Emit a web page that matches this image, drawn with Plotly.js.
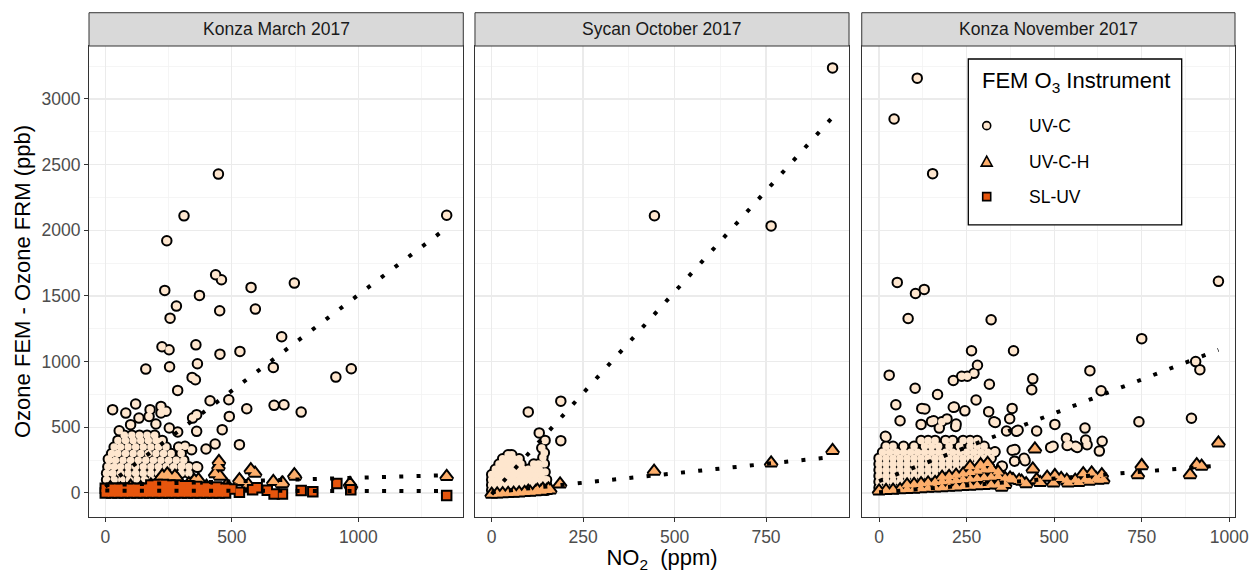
<!DOCTYPE html>
<html>
<head>
<meta charset="utf-8">
<script src="https://cdn.plot.ly/plotly-3.0.1.min.js"></script>
<style>html,body{margin:0;padding:0;background:#fff}#chart{width:1252px;height:573px}</style>
</head>
<body>
<div id="chart"></div>
<script>
// ---------- DATA ----------
const panels = ["Konza March 2017", "Sycan October 2017", "Konza November 2017"];
const instruments = ["UV-C", "UV-C-H", "SL-UV"];
const legendTitle = "FEM O<sub>3</sub> Instrument";
const xTicks1 = [0, 500, 1000];
const xTicks23 = [0, 250, 500, 750, 1000];
const yTicks = [0, 500, 1000, 1500, 2000, 2500, 3000];

// Panel 1: Konza March 2017
const p1_uvc_x = [311,243,436,459,235,372,576,747,281,256,452,593,697,224,252,358,453,532,254,364,160,664,911,972,343,356,286,1349,447,
  29,81,120,55,133,173,177,220,220,240,100,200,253,286,345,361,361,414,488,559,490,462,667,706,774,530,398,434,315,341,365,302,12,
  5,35,65,95,125,155,185,215,245,275,
  5,30,60,90,120,150,180,210,240,270,300,330,
  10,35,60,90,120,150,180,210,240,270,300,330,360,
  15,40,70,100,130,160,190,220,250,280,310,
  25,50,80,110,140,170,200,230,260,300,
  35,60,90,120,150,180,210,240,290,
  50,80,110,140,170,200,225,
  75,105,135,165,195];
const p1_uvc_y = [2110,1920,1661,1623,1542,1504,1565,1598,1423,1331,1387,1400,1189,1113,1090,1128,1057,1078,961,984,943,956,882,946,880,862,781,2114,2428,
  634,608,677,474,570,583,634,659,609,622,520,525,495,464,570,596,469,702,710,641,583,482,667,672,616,368,335,373,355,329,195,205,258,
  100,100,100,100,100,100,100,100,100,100,
  150,150,150,150,150,150,150,150,150,150,150,150,
  200,200,200,200,200,200,200,200,200,200,200,200,200,
  250,250,250,250,250,250,250,250,250,250,250,
  300,300,300,300,300,300,300,300,300,300,
  350,350,350,350,350,350,350,350,350,
  400,400,400,400,400,400,400,
  440,440,440,440,440];
const p1_uvch_x = [449,447,575,592,530,664,701,747,971,565,434,352,282,249,1349,750,967,453,275,368,533,697,
  20,60,100,140,180,210,230,260,300,330,400,480,225,245,260,215];
const p1_uvch_y = [240,200,177,150,101,88,75,139,55,63,147,94,114,127,125,127,71,127,127,101,88,71,
  40,30,50,40,60,90,110,80,60,70,50,60,130,145,100,95];
const p1_slu_x = [0,25,50,75,100,125,150,175,200,225,250,275,300,325,350,375,400,425,450,475,
  0,25,50,75,100,125,150,175,200,225,250,275,300,325,350,375,400,425,450,475,500,
  180,205,230,255,280,305,330,360,400,440,
  530,582,600,640,667,700,774,820,915,970,1349];
const p1_slu_y = [0,0,0,0,0,0,0,0,0,0,0,0,0,0,0,0,0,0,0,0,
  35,35,35,35,35,35,35,35,35,35,35,35,35,35,35,35,35,35,35,35,30,
  60,65,65,60,60,55,55,50,45,45,
  5,25,40,20,-8,-8,18,9,73,25,-19];

// Panel 2: Sycan October 2017
const p2_uvc_x = [932,445,764,189,100,130,189,146,144,144,146,144,137,140,
  0,15,30,45,60,75,90,105,120,135,150,
  0,15,30,45,60,75,90,105,120,135,150,
  0,15,30,45,60,75,90,105,120,135,150,
  0,15,30,45,60,75,90,105,120,135,
  10,25,40,55,70,85,100,115,130,
  20,35,50,65,80,115,128,
  30,45,60,75,
  45,55];
const p2_uvc_y = [3236,2111,2033,699,617,457,398,400,306,222,160,100,342,270,
  20,20,20,20,20,20,20,20,20,20,20,
  60,60,60,60,60,60,60,60,60,60,60,
  100,100,100,100,100,100,100,100,100,100,100,
  140,140,140,140,140,140,140,140,140,140,
  180,180,180,180,180,180,180,180,180,
  220,220,220,220,220,220,220,
  260,260,260,260,
  290,290];
const p2_uvch_x = [187,444,764,932,
  0,15,30,45,60,75,90,105,120,135,150,160,140,155,125,100];
const p2_uvch_y = [68,165,228,324,
  -10,-8,-6,-4,-2,0,3,6,10,14,18,22,28,30,20,12];

// Panel 3: Konza November 2017
const p3_uvc_x = [109,43,153,52,104,129,83,320,969,750,264,384,281,29,212,236,252,271,602,904,916,439,436,315,103,634,167,48,122,131,212,245,277,380,313,
  60,156,194,179,120,219,328,364,397,450,502,588,742,892,497,535,537,566,590,594,637,629,414,352,387,380,331,18,
  150,172,220,215,373,332,490,542,561,417,388,350,392,20,
  0,20,40,60,
  0,20,40,60,80,100,120,
  0,20,40,60,80,100,120,140,160,180,
  0,20,40,60,80,100,120,140,160,180,200,220,240,
  0,20,40,60,80,100,120,140,160,180,200,220,240,260,280,300,
  0,20,40,60,80,100,120,140,160,180,200,220,240,260,280,300,320,
  10,30,50,70,90,110,130,150,170,190,210,230,250,270,290,310,330,
  20,40,70,100,130,150,170,200,230,260,280,300,
  120,140,160,190,210,240,260,280];
const p3_uvc_y = [3158,2847,2431,1603,1519,1550,1328,1319,1611,1175,1083,1083,972,897,856,889,889,911,931,1000,939,869,786,828,797,778,750,672,644,639,653,625,708,644,619,
  550,550,564,542,522,506,542,472,478,472,522,494,542,569,356,417,361,347,403,367,394,319,264,203,242,325,314,431,
  545,494,525,654,565,537,347,367,355,246,330,203,469,426,
  40,40,40,40,
  85,85,85,85,85,85,85,
  130,130,130,130,130,130,130,130,130,130,
  175,175,175,175,175,175,175,175,175,175,175,175,175,
  220,220,220,220,220,220,220,220,220,220,220,220,220,220,220,220,
  265,265,265,265,265,265,265,265,265,265,265,265,265,265,265,265,265,
  310,310,310,310,310,310,310,310,310,310,310,310,310,310,310,310,310,
  355,355,355,355,355,355,355,355,355,355,355,355,
  400,400,400,400,400,400,400,400];
const p3_uvch_x = [969,750,739,907,921,888,445,439,502,498,536,560,588,607,636,626,583,374,383,407,450,322,350,288,
  0,20,40,60,80,100,120,140,160,180,200,220,240,260,280,300,320,340,360,
  80,100,120,140,160,180,200,220,240,260,280,300,320,340,360,380,400,
  180,200,220,240,260,280,300,320,340,
  260,290,310,
  420,460,480,520,540,570,600,620,640];
const p3_uvch_y = [380,208,139,215,203,139,335,183,132,76,96,96,101,152,139,96,147,114,101,89,101,177,43,203,
  15,18,21,24,26,29,32,35,37,40,43,46,49,51,54,57,60,62,65,
  60,65,70,75,80,85,90,95,100,105,110,115,120,125,110,100,95,
  120,125,135,145,155,165,175,185,160,
  200,215,225,
  70,80,120,110,75,80,90,110,100];

// Linear trend lines (end points)
const p1_fit_x = [0, 1349];
const p1_fit_uvc = [48, 2018];
const p1_fit_uvch = [60, 135];
const p1_fit_slu = [18, 14];
const p2_fit_x = [0, 932];
const p2_fit_uvc = [-10, 2861];
const p2_fit_uvch = [6, 274];
const p3_fit_x = [0, 969];
const p3_fit_uvc = [90, 1090];
const p3_fit_uvch = [5, 208];

// ---------- STYLE ----------
const FONT = 'Liberation Sans, Arial, Helvetica, sans-serif';
const fills = {"UV-C": '#FEE6CE', "UV-C-H": '#FDAE6B', "SL-UV": '#E6550D'};
const symbols = {"UV-C": 'circle', "UV-C-H": 'triangle-up', "SL-UV": 'square'};
const sizes = {"UV-C": 7.5, "UV-C-H": 10, "SL-UV": 7.5};

function pointTraces(xs, ys, inst, ax) {
  const xa = 'x' + (ax === 1 ? '' : ax), ya = 'y' + (ax === 1 ? '' : ax);
  return [
    {type: 'scatter', mode: 'markers', x: xs, y: ys, xaxis: xa, yaxis: ya, showlegend: false, hoverinfo: 'skip', name: inst,
     marker: {symbol: symbols[inst], size: sizes[inst], color: '#000000', line: {color: '#000000', width: 4}}},
    {type: 'scatter', mode: 'markers', x: xs, y: ys, xaxis: xa, yaxis: ya, showlegend: false, name: inst,
     marker: {symbol: symbols[inst], size: sizes[inst], color: fills[inst], line: {width: 0}}}
  ];
}
function fitTrace(xs, ys, ax) {
  const xa = 'x' + (ax === 1 ? '' : ax), ya = 'y' + (ax === 1 ? '' : ax);
  return {type: 'scatter', mode: 'lines', x: xs, y: ys, xaxis: xa, yaxis: ya, showlegend: false, hoverinfo: 'skip',
          line: {color: '#000000', width: 4, dash: '4px,13.3px'}};
}

const traces = [].concat(
  pointTraces(p1_uvc_x, p1_uvc_y, 'UV-C', 1),
  pointTraces(p1_uvch_x, p1_uvch_y, 'UV-C-H', 1),
  pointTraces(p1_slu_x, p1_slu_y, 'SL-UV', 1),
  pointTraces(p2_uvc_x, p2_uvc_y, 'UV-C', 2),
  pointTraces(p2_uvch_x, p2_uvch_y, 'UV-C-H', 2),
  pointTraces(p3_uvc_x, p3_uvc_y, 'UV-C', 3),
  pointTraces(p3_uvch_x, p3_uvch_y, 'UV-C-H', 3),
  [fitTrace(p1_fit_x, p1_fit_uvc, 1), fitTrace(p1_fit_x, p1_fit_uvch, 1), fitTrace(p1_fit_x, p1_fit_slu, 1),
   fitTrace(p2_fit_x, p2_fit_uvc, 2), fitTrace(p2_fit_x, p2_fit_uvch, 2),
   fitTrace(p3_fit_x, p3_fit_uvc, 3), fitTrace(p3_fit_x, p3_fit_uvch, 3)]
);

// ---------- LAYOUT ----------
const W = 1252, H = 573, ML = 89, MR = 17, MT = 46, MB = 55.7;
const PW = W - ML - MR, PH = H - MT - MB;
const px2x = function (px) { return (px - ML) / PW; };
const px2y = function (py) { return (H - MB - py) / PH; };

const domains = [[0, 0.3266], [0.3368, 0.6632], [0.6743, 1]];
const xRanges = [[-64.4, 1414.6], [-45.7, 977], [-49.4, 1016.3]];
const yRange = [-183, 3403];

function xAxis(i) {
  const a = {
    domain: domains[i], range: xRanges[i], anchor: i === 0 ? 'y' : 'y' + (i + 1),
    tickmode: 'array', tickvals: i === 0 ? xTicks1 : xTicks23,
    ticks: 'outside', ticklen: 4, tickwidth: 1, tickcolor: '#333333',
    tickfont: {family: FONT, size: 17.5, color: '#4D4D4D'},
    showgrid: true, gridcolor: '#EBEBEB', gridwidth: 1.3, zeroline: false,
    minor: {dtick: i === 0 ? 250 : 125, tick0: 0, showgrid: true, gridcolor: '#F2F2F2', gridwidth: 0.8, ticks: ''},
    showline: true, mirror: true, linecolor: '#333333', linewidth: 1, fixedrange: true
  };
  if (i === 1) a.title = {text: 'NO<sub>2</sub>&nbsp; (ppm)', font: {family: FONT, size: 22, color: '#000'}, standoff: 4};
  return a;
}
function yAxis(i) {
  const a = {
    domain: [0, 1], range: yRange, anchor: i === 0 ? 'x' : 'x' + (i + 1),
    tickmode: 'array', tickvals: yTicks,
    showticklabels: i === 0, ticks: i === 0 ? 'outside' : '', ticklen: 4, tickwidth: 1, tickcolor: '#333333',
    tickfont: {family: FONT, size: 17.5, color: '#4D4D4D'},
    showgrid: true, gridcolor: '#EBEBEB', gridwidth: 1.3, zeroline: false,
    minor: {dtick: 250, tick0: 0, showgrid: true, gridcolor: '#F2F2F2', gridwidth: 0.8, ticks: ''},
    showline: true, mirror: true, linecolor: '#333333', linewidth: 1, fixedrange: true
  };
  if (i === 0) a.title = {text: 'Ozone FEM - Ozone FRM (ppb)', font: {family: FONT, size: 22, color: '#000'}, standoff: 4};
  return a;
}

const stripTop = 1 + (MT - 12.7) / PH;
const shapes = [], annotations = [];
domains.forEach(function (d, i) {
  shapes.push({type: 'rect', xref: 'paper', yref: 'paper', x0: d[0], x1: d[1], y0: 1, y1: stripTop,
               fillcolor: '#D9D9D9', line: {color: '#333333', width: 1}});
  annotations.push({xref: 'paper', yref: 'paper', x: (d[0] + d[1]) / 2, y: (1 + stripTop) / 2,
                    xanchor: 'center', yanchor: 'middle', showarrow: false, text: panels[i],
                    font: {family: FONT, size: 17.5, color: '#1A1A1A'}});
});

// Legend box drawn inside the third panel
shapes.push({type: 'rect', xref: 'paper', yref: 'paper', x0: px2x(968.3), x1: px2x(1181.7), y0: px2y(225), y1: px2y(59),
             fillcolor: '#FFFFFF', line: {color: '#000000', width: 1.3}, layer: 'above'});
annotations.push({xref: 'paper', yref: 'paper', x: px2x(980), y: px2y(82), xanchor: 'left', yanchor: 'middle',
                  showarrow: false, text: legendTitle, font: {family: FONT, size: 22, color: '#000'}});
const keyY = [125.7, 161.7, 196.7];
const keyPaths = {
  "UV-C": null,
  "UV-C-H": 'M-5.5,-4.5L5.5,-4.5L0,5.5Z',
  "SL-UV": null
};
instruments.forEach(function (inst, k) {
  const ax = px2x(986.7), ay = px2y(keyY[k]);
  const base = {xref: 'paper', yref: 'paper', xsizemode: 'pixel', ysizemode: 'pixel', xanchor: ax, yanchor: ay,
                fillcolor: fills[inst], line: {color: '#000000', width: 1.6}, layer: 'above'};
  if (inst === 'UV-C') shapes.push(Object.assign({type: 'circle', x0: -4, x1: 4, y0: -4, y1: 4}, base));
  else if (inst === 'SL-UV') shapes.push(Object.assign({type: 'rect', x0: -4, x1: 4, y0: -4, y1: 4}, base));
  else shapes.push(Object.assign({type: 'path', path: keyPaths[inst]}, base));
  annotations.push({xref: 'paper', yref: 'paper', x: px2x(1026.7), y: ay, xanchor: 'left', yanchor: 'middle',
                    showarrow: false, text: inst, font: {family: FONT, size: 17.5, color: '#000'}});
});

const layout = {
  width: W, height: H,
  margin: {l: ML, r: MR, t: MT, b: MB, pad: 0},
  paper_bgcolor: '#FFFFFF', plot_bgcolor: '#FFFFFF',
  font: {family: FONT, color: '#000'},
  xaxis: xAxis(0), xaxis2: xAxis(1), xaxis3: xAxis(2),
  yaxis: yAxis(0), yaxis2: yAxis(1), yaxis3: yAxis(2),
  shapes: shapes, annotations: annotations,
  showlegend: false,
  hovermode: false
};

Plotly.newPlot('chart', traces, layout, {displayModeBar: false, staticPlot: true});
</script>
</body>
</html>
